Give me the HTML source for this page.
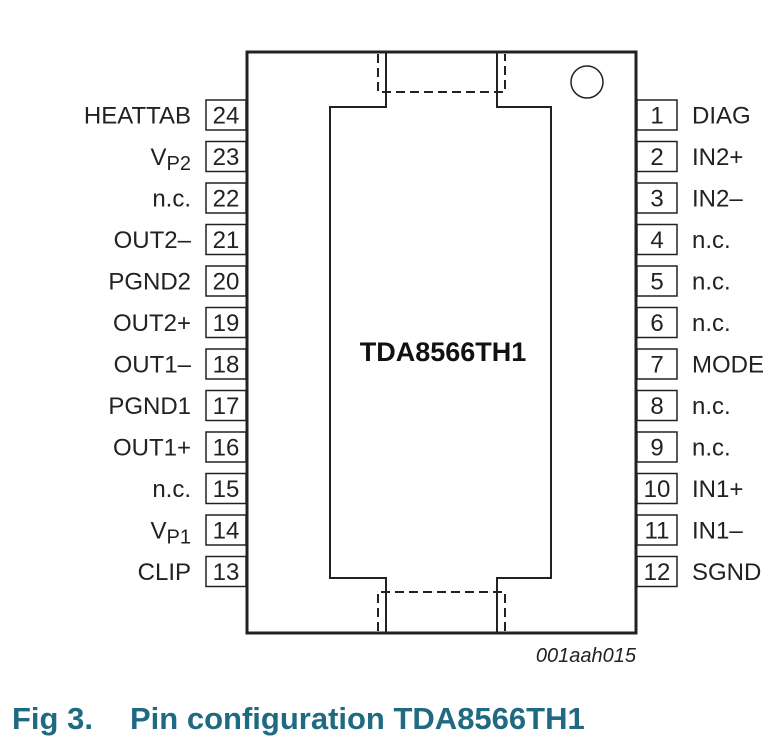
<!DOCTYPE html>
<html><head><style>body{margin:0;background:#fff}svg{display:block}</style></head><body>
<svg width="783" height="750" viewBox="0 0 783 750" font-family="Liberation Sans, sans-serif">
<rect x="0" y="0" width="783" height="750" fill="#fff"/>
<g fill="none" stroke="#222">
<rect x="247" y="52" width="389" height="581" stroke-width="3"/>
<path d="M386 52 V107 H330 V578 H386 V633 M497 52 V107 H551 V578 H497 V633" stroke-width="2"/>
<path d="M378 54 V92 H505 V54 M378 631 V592 H505 V631" stroke-width="2" stroke-dasharray="9,5"/>
<circle cx="587" cy="82" r="16" stroke-width="1.5"/>
</g>
<g font-size="24" fill="#222">
<g fill="#fff" stroke="#222" stroke-width="1.5">
<rect x="206" y="100" width="40" height="30"/><rect x="206" y="141.5" width="40" height="30"/><rect x="206" y="183" width="40" height="30"/><rect x="206" y="224.5" width="40" height="30"/><rect x="206" y="266" width="40" height="30"/><rect x="206" y="307.5" width="40" height="30"/><rect x="206" y="349" width="40" height="30"/><rect x="206" y="390.5" width="40" height="30"/><rect x="206" y="432" width="40" height="30"/><rect x="206" y="473.5" width="40" height="30"/><rect x="206" y="515" width="40" height="30"/><rect x="206" y="556.5" width="40" height="30"/>
<rect x="637" y="100" width="40" height="30"/><rect x="637" y="141.5" width="40" height="30"/><rect x="637" y="183" width="40" height="30"/><rect x="637" y="224.5" width="40" height="30"/><rect x="637" y="266" width="40" height="30"/><rect x="637" y="307.5" width="40" height="30"/><rect x="637" y="349" width="40" height="30"/><rect x="637" y="390.5" width="40" height="30"/><rect x="637" y="432" width="40" height="30"/><rect x="637" y="473.5" width="40" height="30"/><rect x="637" y="515" width="40" height="30"/><rect x="637" y="556.5" width="40" height="30"/>
</g>
<g text-anchor="middle">
<text x="226" y="123.5">24</text><text x="226" y="165">23</text><text x="226" y="206.5">22</text><text x="226" y="248">21</text><text x="226" y="289.5">20</text><text x="226" y="331">19</text><text x="226" y="372.5">18</text><text x="226" y="414">17</text><text x="226" y="455.5">16</text><text x="226" y="497">15</text><text x="226" y="538.5">14</text><text x="226" y="580">13</text>
<text x="657" y="123.5">1</text><text x="657" y="165">2</text><text x="657" y="206.5">3</text><text x="657" y="248">4</text><text x="657" y="289.5">5</text><text x="657" y="331">6</text><text x="657" y="372.5">7</text><text x="657" y="414">8</text><text x="657" y="455.5">9</text><text x="657" y="497">10</text><text x="657" y="538.5">11</text><text x="657" y="580">12</text>
</g>
<g text-anchor="end">
<text x="191" y="123.5">HEATTAB</text><text x="191" y="165">V<tspan dy="5" font-size="20">P2</tspan></text><text x="191" y="206.5">n.c.</text><text x="191" y="248">OUT2–</text><text x="191" y="289.5">PGND2</text><text x="191" y="331">OUT2+</text><text x="191" y="372.5">OUT1–</text><text x="191" y="414">PGND1</text><text x="191" y="455.5">OUT1+</text><text x="191" y="497">n.c.</text><text x="191" y="538.5">V<tspan dy="5" font-size="20">P1</tspan></text><text x="191" y="580">CLIP</text>
</g>
<g>
<text x="692" y="123.5">DIAG</text><text x="692" y="165">IN2+</text><text x="692" y="206.5">IN2–</text><text x="692" y="248">n.c.</text><text x="692" y="289.5">n.c.</text><text x="692" y="331">n.c.</text><text x="692" y="372.5">MODE</text><text x="692" y="414">n.c.</text><text x="692" y="455.5">n.c.</text><text x="692" y="497">IN1+</text><text x="692" y="538.5">IN1–</text><text x="692" y="580">SGND</text>
</g>
</g>
<text x="443" y="361" font-size="27" font-weight="bold" text-anchor="middle" fill="#111">TDA8566TH1</text>
<text x="636" y="662" font-size="20" font-style="italic" text-anchor="end" fill="#222">001aah015</text>
<text x="12" y="729" font-size="31" font-weight="bold" fill="#1f6a80">Fig 3.<tspan x="130">Pin configuration TDA8566TH1</tspan></text>
</svg>
</body></html>
